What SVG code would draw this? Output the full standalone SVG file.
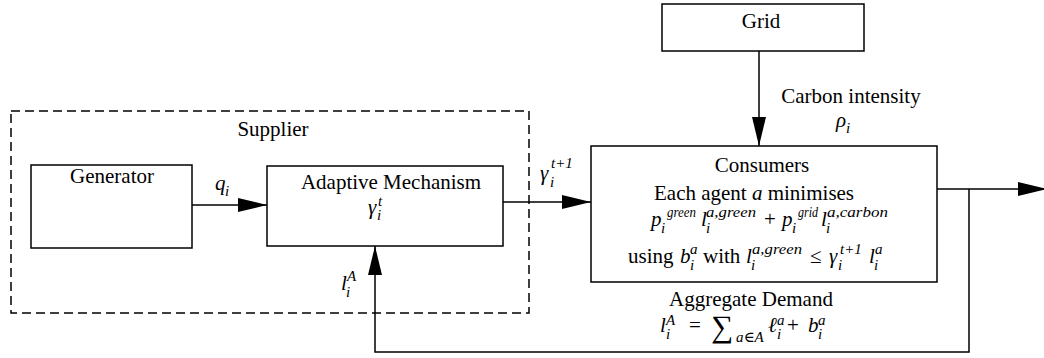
<svg xmlns="http://www.w3.org/2000/svg" width="1044" height="358" viewBox="0 0 1044 358" font-family="'Liberation Serif', 'Times New Roman', Tinos, 'DejaVu Serif', serif">
<style>
text{font-family:'Liberation Serif','Times New Roman',Tinos,'DejaVu Serif',serif;font-size:21px;fill:#000}
.m{font-style:italic}
.s{font-size:15px;font-style:italic}
.c{text-anchor:middle}
.box{fill:#fff;stroke:#000;stroke-width:1.5}
.dash{fill:none;stroke:#000;stroke-width:1.5;stroke-dasharray:9 5}
.ln{fill:none;stroke:#000;stroke-width:1.5}
</style>
<defs>
<marker id="ah" markerUnits="userSpaceOnUse" markerWidth="29" markerHeight="14" viewBox="0 -7 29 14" refX="29" refY="0" orient="auto" overflow="visible">
<path d="M0,-7 L29,0 L0,7 z" fill="#000"/>
</marker>
</defs>
<rect width="1044" height="358" fill="#fff"/>

<g id="supplier">
<rect class="dash" x="11" y="111" width="518" height="202"/>
<text class="c" x="273" y="136">Supplier</text>
</g>

<g id="generator">
<rect class="box" x="31" y="165" width="161" height="83"/>
<text class="c" x="112" y="183">Generator</text>
</g>

<g id="adaptive">
<rect class="box" x="267" y="166" width="236" height="80"/>
<text class="c" x="391" y="189">Adaptive Mechanism</text>
<text class="m" x="368" y="214">γ</text>
<text class="s" x="378" y="206">t</text>
<text class="s" x="377" y="220">i</text>
</g>

<g id="grid">
<rect class="box" x="662" y="4" width="202" height="47"/>
<text class="c" x="761" y="28">Grid</text>
</g>

<g id="consumers">
<rect class="box" x="591" y="146" width="346" height="136"/>
<text class="c" x="762" y="172">Consumers</text>
<text x="654" y="200">Each agent <tspan class="m">a</tspan> minimises</text>
<text class="m" x="651" y="226">p</text>
<text class="s" x="661" y="233">i</text>
<text class="s" x="667" y="217" textLength="29" lengthAdjust="spacingAndGlyphs">green</text>
<text class="m" x="701" y="226">l</text>
<text class="s" x="706" y="233">i</text>
<text class="s" x="706" y="217" textLength="50" lengthAdjust="spacingAndGlyphs">a,green</text>
<text x="764" y="226">+</text>
<text class="m" x="782" y="226">p</text>
<text class="s" x="792" y="233">i</text>
<text class="s" x="798" y="217" textLength="20" lengthAdjust="spacingAndGlyphs">grid</text>
<text class="m" x="821" y="226">l</text>
<text class="s" x="826" y="233">i</text>
<text class="s" x="827" y="217" textLength="61" lengthAdjust="spacingAndGlyphs">a,carbon</text>
<text x="628" y="263">using</text>
<text class="m" x="680" y="263">b</text>
<text class="s" x="690" y="254">a</text>
<text class="s" x="690" y="270">i</text>
<text x="703" y="263">with</text>
<text class="m" x="746" y="263">l</text>
<text class="s" x="751" y="270">i</text>
<text class="s" x="752" y="254" textLength="50" lengthAdjust="spacingAndGlyphs">a,green</text>
<text x="810" y="263">≤</text>
<text class="m" x="829" y="263">γ</text>
<text class="s" x="840" y="254">t+1</text>
<text class="s" x="838" y="270">i</text>
<text class="m" x="869" y="263">l</text>
<text class="s" x="875" y="254">a</text>
<text class="s" x="874" y="270">i</text>
</g>

<g id="connectors">
<line class="ln" x1="192" y1="205" x2="267" y2="205" marker-end="url(#ah)"/>
<line class="ln" x1="503" y1="202" x2="591" y2="202" marker-end="url(#ah)"/>
<line class="ln" x1="759" y1="51" x2="759" y2="146" marker-end="url(#ah)"/>
<line class="ln" x1="937" y1="189" x2="1047" y2="189" marker-end="url(#ah)"/>
<polyline class="ln" points="969,189 969,352 375,352 375,246" marker-end="url(#ah)"/>

<text class="m" x="215" y="190">q</text>
<text class="s" x="225" y="196">i</text>

<text class="m" x="540" y="180">γ</text>
<text class="s" x="551" y="168">t+1</text>
<text class="s" x="550" y="187">i</text>

<text class="c" x="851" y="103">Carbon intensity</text>
<text class="m" x="836" y="127">ρ</text>
<text class="s" x="846" y="133">i</text>

<text class="m" x="341" y="290">l</text>
<text class="s" x="347" y="281">A</text>
<text class="s" x="346" y="297">i</text>

<text class="c" x="751" y="306">Aggregate Demand</text>
<text class="m" x="660" y="332">l</text>
<text class="s" x="666" y="325">A</text>
<text class="s" x="666" y="339">i</text>
<text x="689" y="332">=</text>
<text x="711" y="337" style="font-size:31px">∑</text>
<text class="s" x="736" y="342">a∈A</text>
<text class="m" x="768" y="332">ℓ</text>
<text class="s" x="777" y="325">a</text>
<text class="s" x="777" y="339">i</text>
<text x="787" y="332">+</text>
<text class="m" x="808" y="332">b</text>
<text class="s" x="818" y="325">a</text>
<text class="s" x="818" y="339">i</text>
</g>
</svg>
